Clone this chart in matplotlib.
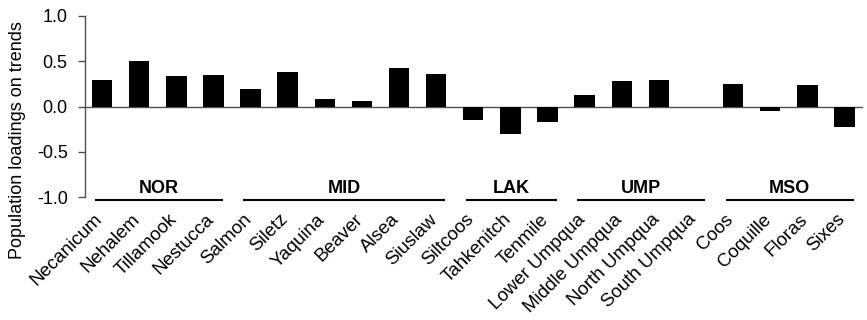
import matplotlib
matplotlib.use("Agg")
import matplotlib.pyplot as plt
from matplotlib.transforms import ScaledTranslation

plt.rcParams['font.family'] = ['Liberation Sans', 'DejaVu Sans']

# Population names and their loadings on trends
populations = ["Necanicum", "Nehalem", "Tillamook", "Nestucca",
               "Salmon", "Siletz", "Yaquina", "Beaver", "Alsea", "Siuslaw",
               "Siltcoos", "Tahkenitch", "Tenmile",
               "Lower Umpqua", "Middle Umpqua", "North Umpqua", "South Umpqua",
               "Coos", "Coquille", "Floras", "Sixes"]
loadings = [0.29, 0.50, 0.34, 0.35,
            0.19, 0.38, 0.085, 0.066, 0.43, 0.36,
            -0.15, -0.30, -0.17,
            0.13, 0.28, 0.29, 0.0,
            0.25, -0.05, 0.24, -0.23]

# Population groups (name, number of members)
group_names = ["NOR", "MID", "LAK", "UMP", "MSO"]
group_sizes = [4, 6, 3, 4, 4]

y_ticks = [-1.0, -0.5, 0.0, 0.5, 1.0]

axis_color = "#505050"

fig = plt.figure(figsize=(8.67, 3.2), dpi=100)
ax = fig.add_axes([85 / 867, 1 - 197 / 320, 778 / 867, 181 / 320])

x = list(range(len(populations)))
ax.bar(x, loadings, width=0.55, color="black", zorder=3)

ax.set_xlim(-0.46, 20.5)
ax.set_ylim(-1.0, 1.0)

ax.axhline(0, color=axis_color, linewidth=1.0, zorder=2)

for side in ["top", "right", "bottom"]:
    ax.spines[side].set_visible(False)
ax.spines["left"].set_color(axis_color)
ax.spines["left"].set_linewidth(1.0)

ax.set_yticks(y_ticks)
ax.set_yticklabels([f"{v:.1f}" for v in y_ticks], fontsize=13)
ax.tick_params(axis="y", direction="out", length=5, width=1.0,
               color=axis_color, pad=7.5)

ax.set_xticks(x)
ax.set_xticklabels(populations, rotation=45, ha="right", fontsize=13.5)
ax.tick_params(axis="x", length=0, pad=10)
shift = ScaledTranslation(4 / 100, 0, fig.dpi_scale_trans)
for lbl in ax.get_xticklabels():
    lbl.set_transform(lbl.get_transform() + shift)

fig.text(18 / 867, 1 - 140 / 320, "Population loadings on trends",
         rotation=90, ha="center", va="center", fontsize=13)

# Group brackets beneath the axis
start = 0
for name, size in zip(group_names, group_sizes):
    first, last = start, start + size - 1
    ax.plot([first - 0.2, last + 0.25], [-1.03, -1.03], color="black",
            linewidth=1.5, clip_on=False, solid_capstyle="butt")
    ax.text((first - 0.2 + last + 0.25) / 2, -0.955, name, ha="center",
            va="baseline", fontsize=13, fontweight="bold")
    start += size

fig.savefig("out.png", dpi=100)
